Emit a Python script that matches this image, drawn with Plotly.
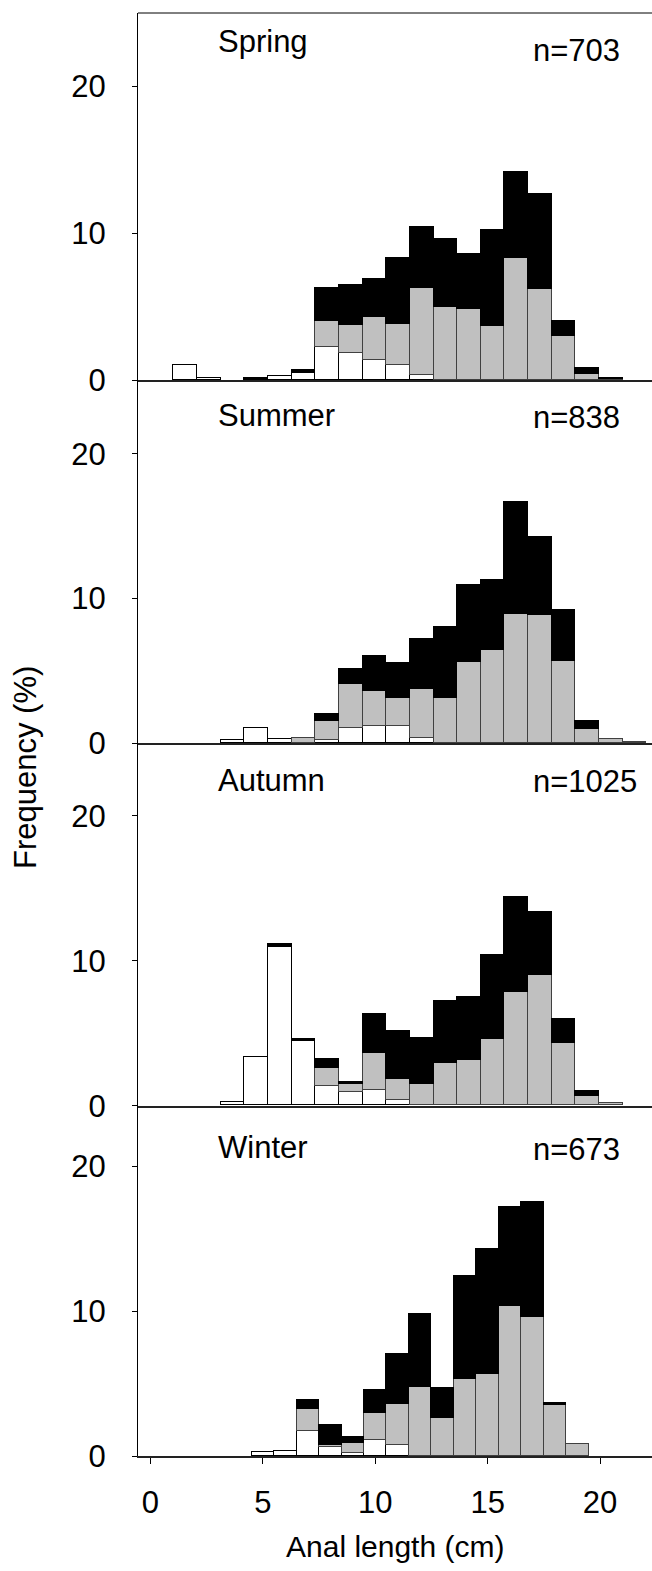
import plotly.graph_objects as go

# Length classes (cm, bin centres)
bins = list(range(1, 23))

# Segment heights (%) for each season, aligned with bins 1..22
spring_white = [0, 1.0, 0.15, 0, 0, 0.25, 0.48, 2.27, 1.81, 1.36, 1.02, 0.34, 0, 0, 0, 0, 0, 0, 0, 0, 0, 0]
spring_gray  = [0, 0, 0, 0, 0, 0, 0, 1.74, 1.93, 2.95, 2.79, 5.92, 4.97, 4.83, 3.67, 8.3, 6.19, 2.97, 0.41, 0.07, 0, 0]
spring_black = [0, 0, 0, 0, 0.13, 0, 0.2, 2.29, 2.72, 2.56, 4.49, 4.17, 4.62, 3.74, 6.56, 5.9, 6.51, 1.04, 0.43, 0.07, 0, 0]

summer_white = [0, 0, 0, 0.21, 1.08, 0.28, 0, 0.23, 1.04, 1.22, 1.22, 0.39, 0, 0, 0, 0, 0, 0, 0, 0, 0, 0]
summer_gray  = [0, 0, 0, 0, 0, 0, 0.35, 1.29, 3.08, 2.42, 1.94, 3.37, 3.16, 5.65, 6.47, 8.96, 8.87, 5.71, 0.99, 0.3, 0.1, 0]
summer_black = [0, 0, 0, 0, 0, 0, 0, 0.51, 1.0, 2.4, 2.39, 3.43, 4.88, 5.29, 4.84, 7.7, 5.39, 3.48, 0.58, 0, 0, 0]

autumn_white = [0, 0, 0, 0.23, 3.34, 10.91, 4.42, 1.33, 0.9, 1.04, 0.37, 0, 0, 0, 0, 0, 0, 0, 0, 0, 0, 0]
autumn_gray  = [0, 0, 0, 0, 0, 0, 0, 1.22, 0.57, 2.6, 1.43, 1.47, 2.95, 3.11, 4.58, 7.83, 9.02, 4.28, 0.62, 0.14, 0, 0]
autumn_black = [0, 0, 0, 0, 0, 0.25, 0.14, 0.67, 0.14, 2.69, 3.33, 3.16, 4.28, 4.39, 5.82, 6.58, 4.33, 1.7, 0.35, 0, 0, 0]

winter_white = [0, 0, 0, 0, 0.28, 0.37, 1.73, 0.64, 0.23, 1.1, 0.8, 0, 0, 0, 0, 0, 0, 0, 0, 0, 0, 0]
winter_gray  = [0, 0, 0, 0, 0, 0, 1.54, 0.16, 0.67, 1.9, 2.81, 4.81, 2.62, 5.34, 5.66, 10.4, 9.6, 3.52, 0.85, 0, 0, 0]
winter_black = [0, 0, 0, 0, 0, 0, 0.6, 1.39, 0.41, 1.6, 3.48, 5.04, 2.12, 7.09, 8.66, 6.8, 7.98, 0.18, 0, 0, 0, 0]

seasons = ["Spring", "Summer", "Autumn", "Winter"]
sample_sizes = ["n=703", "n=838", "n=1025", "n=673"]
y_ticks = [0, 10, 20]
x_ticks = [0, 5, 10, 15, 20]

data = [
    (spring_white, spring_gray, spring_black),
    (summer_white, summer_gray, summer_black),
    (autumn_white, autumn_gray, autumn_black),
    (winter_white, winter_gray, winter_black),
]

W, H = 652, 1571
ML, MR, MT = 138, 0, 13
MB = H - 1456
plot_h = H - MT - MB
# panel pixel bounds (top, bottom) in page coords
panel_px = [(13, 380), (380, 743.3), (743.3, 1105.7), (1105.7, 1456)]
y_tops = [25.0, 25.1, 25.0, 24.2]

def fy(page_y):
    return (H - MB - page_y) / plot_h

def fx(page_x):
    return (page_x - ML) / (W - ML - MR)

FONT = "Arial, Liberation Sans, sans-serif"
fig = go.Figure()

styles = [
    ("white", "black"),
    ("#c0c0c0", "#404040"),
    ("black", "black"),
]

for i, segs in enumerate(data):
    xa = "x" if i == 0 else f"x{i+1}"
    ya = "y" if i == 0 else f"y{i+1}"
    for vals, (fc, lc) in zip(segs, styles):
        fig.add_trace(go.Bar(
            x=bins, y=[v if v else None for v in vals], width=1.0,
            marker=dict(color=fc, line=dict(color=lc, width=1)),
            xaxis=xa, yaxis=ya, showlegend=False, hoverinfo="skip"))

# visible width in data units: page px 138..652
upper_range = [0, (652 - 137.8) / 23.65]
lower_range = [(138.3 - 150.7) / 22.47, (652 - 150.7) / 22.47]

layout = dict(
    width=W, height=H, barmode="stack", bargap=0,
    margin=dict(l=ML, r=MR, t=MT, b=MB, pad=0, autoexpand=False),
    paper_bgcolor="white", plot_bgcolor="white",
    font=dict(family=FONT, size=31, color="black"),
)

for i in range(4):
    sx = "" if i == 0 else str(i + 1)
    top, bot = panel_px[i]
    last = (i == 3)
    layout["xaxis" + sx] = dict(
        domain=[0, 1], anchor="y" + sx,
        range=lower_range if last else upper_range,
        showgrid=False, zeroline=False,
        showline=True, linecolor="#222", linewidth=1.5,
        ticks="outside" if last else "", ticklen=6, tickcolor="black",
        tickvals=x_ticks if last else [],
        showticklabels=last, ticklabelstandoff=12,
        tickfont=dict(size=31, family=FONT),
    )
    layout["yaxis" + sx] = dict(
        domain=[fy(bot), fy(top)], anchor="x" + sx,
        range=[0, y_tops[i]],
        showgrid=False, zeroline=False,
        showline=True, linecolor="black", linewidth=1,
        ticks="outside", ticklen=5, tickcolor="black",
        tickvals=y_ticks, ticklabelstandoff=20,
        tickfont=dict(size=31, family=FONT),
    )

fig.update_layout(**layout)

# top border of the first panel
fig.add_shape(type="line", xref="paper", yref="paper", x0=0, x1=1, y0=1, y1=1,
              line=dict(color="black", width=1))

label_y = [42, 415, 780, 1147]
for i in range(4):
    fig.add_annotation(xref="paper", yref="paper", x=fx(216), y=fy(label_y[i]),
                       text=seasons[i], showarrow=False, xanchor="left", yanchor="middle",
                       font=dict(size=31, family=FONT))
    fig.add_annotation(xref="paper", yref="paper", x=fx(531), y=fy(label_y[i] + (8 if i == 0 else 2)),
                       text=sample_sizes[i], showarrow=False, xanchor="left", yanchor="middle",
                       font=dict(size=31, family=FONT))

fig.add_annotation(xref="paper", yref="paper", x=fx(395), y=fy(1546),
                   text="Anal length (cm)", showarrow=False, xanchor="center", yanchor="middle",
                   font=dict(size=30, family=FONT))
fig.add_annotation(xref="paper", yref="paper", x=fx(25), y=fy(768),
                   text="Frequency (%)", showarrow=False, textangle=-90,
                   xanchor="center", yanchor="middle", font=dict(size=31, family=FONT))

fig.write_html("out.html", config={"displayModeBar": False},
               post_script="document.body.style.margin='0';document.body.style.overflow='hidden';")
